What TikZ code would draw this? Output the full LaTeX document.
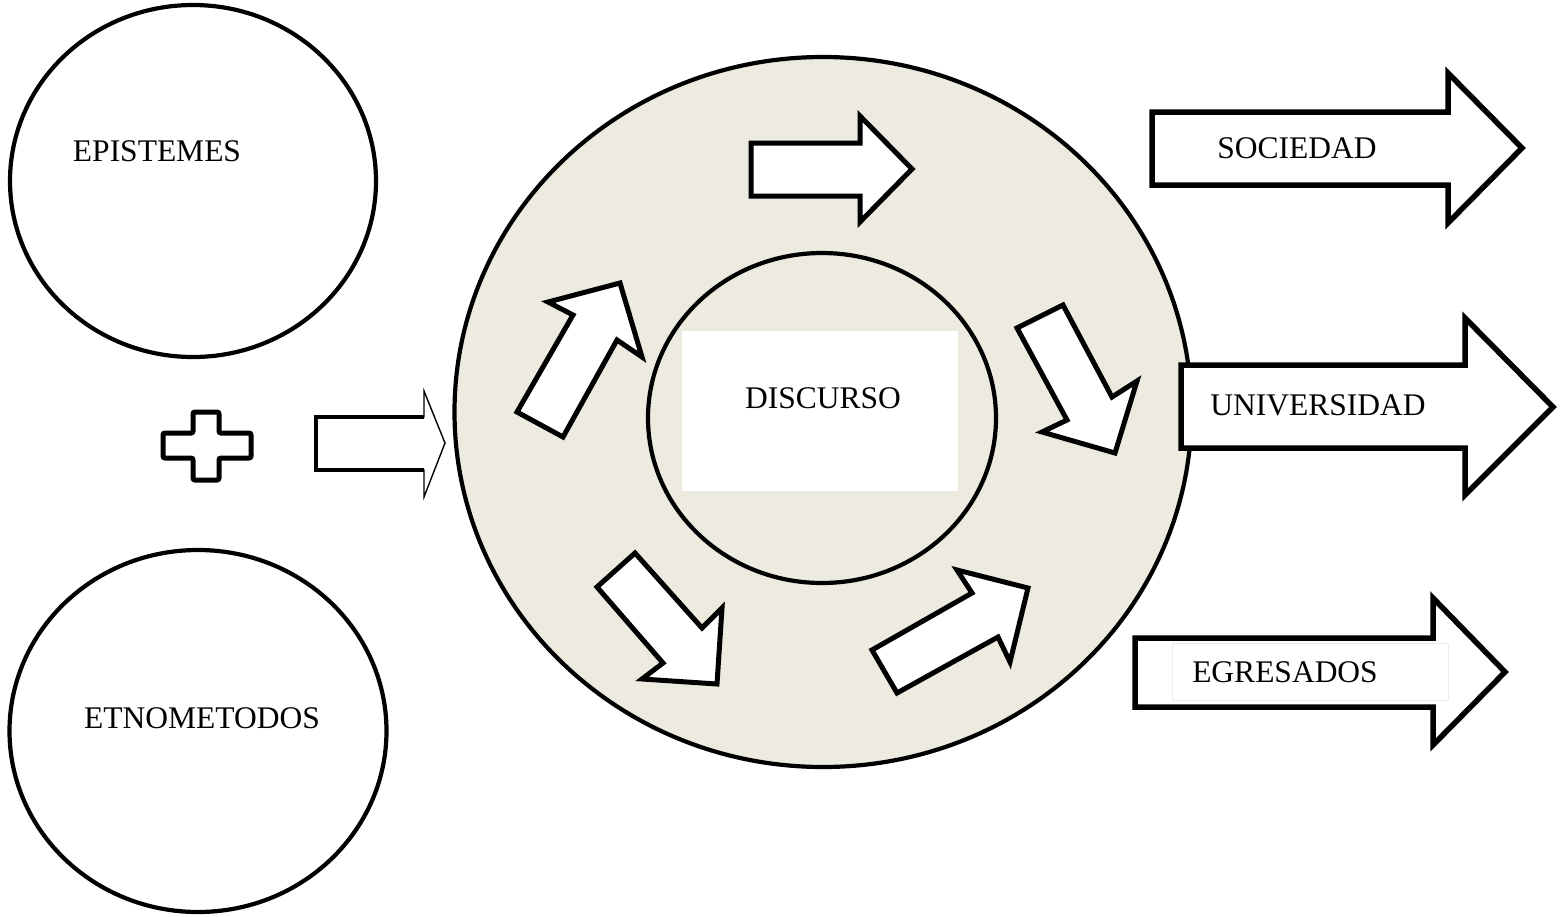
\documentclass[tikz,border=0pt]{standalone}
\usepackage{fontspec}
\setmainfont{Liberation Serif}
\usetikzlibrary{shapes.geometric}
\definecolor{beige}{RGB}{237,235,224}
\begin{document}
\begin{tikzpicture}[x=1pt,y=-1pt,
  circ/.style={draw=black,line width=4.2pt,ellipse,inner sep=0pt},
  lbl/.style={font=\fontsize{31.5}{36}\selectfont,inner sep=0pt},
  blockarrow/.style={draw=black,fill=white,line width=5pt,line join=miter},
  bigarrow/.style={draw=black,fill=white,line width=5.5pt,line join=miter}]
\useasboundingbox[fill=white] (0,0) rectangle (1564,916);

% left circles
\node[circ,minimum width=366pt,minimum height=352pt] (epi) at (193,181) {};
\node[lbl] (epit) at (157,151) {EPISTEMES};
\node[circ,minimum width=377pt,minimum height=362pt] (etno) at (198,731) {};
\node[lbl] (etnot) at (202,718) {ETNOMETODOS};

% plus sign
\draw[line width=5pt,rounded corners=2pt,fill=white]
  (193,412) -- (219,412) -- (219,433) -- (251,433) -- (251,458) -- (219,458)
  -- (219,480) -- (193,480) -- (193,458) -- (163,458) -- (163,433) -- (193,433) -- cycle;

% left arrow
\draw[line width=1.4pt,fill=white,line join=miter]
  (316,417) -- (424,417) -- (424,391) -- (445,443) -- (424,497) -- (424,470) -- (316,470) -- cycle;
\draw[line width=3.5pt] (424,417) -- (316,417) -- (316,470) -- (424,470);

% big circle
\node[circ,fill=beige,minimum width=737pt,minimum height=710pt] (outer) at (823,412) {};
\node[circ,fill=beige,minimum width=348pt,minimum height=330pt] (inner) at (822,418) {};
\fill[white] (682,331) rectangle (958,491);
\node[lbl] (disc) at (823,398) {DISCURSO};

% small arrows inside
\draw[blockarrow] (751,143) -- (860,143) -- (860,116) -- (912,169) -- (860,222) -- (860,196) -- (751,196) -- cycle;
\draw[blockarrow] (517,412) -- (563,437) -- (617,340) -- (642,357) -- (620,283) -- (548,302) -- (573,315) -- cycle;
\draw[blockarrow] (1017,328) -- (1063,305) -- (1112,397) -- (1137,381) -- (1115,453) -- (1042,432) -- (1067,420) -- cycle;
\draw[blockarrow] (597,587) -- (635,553) -- (702,628) -- (722,608) -- (717,684) -- (642,679) -- (663,663) -- cycle;
\draw[blockarrow] (872,650) -- (897,693) -- (998,637) -- (1010,662) -- (1028,588) -- (957,570) -- (972,593) -- cycle;

% right arrows
\draw[bigarrow] (1152,112) -- (1448,112) -- (1448,73) -- (1522,148) -- (1448,223) -- (1448,185) -- (1152,185) -- cycle;
\node[lbl] (soc) at (1297,148) {SOCIEDAD};
\draw[bigarrow] (1181,365) -- (1465,365) -- (1465,318) -- (1553,407) -- (1465,495) -- (1465,448) -- (1181,448) -- cycle;
\node[lbl] (uni) at (1318,405) {UNIVERSIDAD};
\draw[bigarrow] (1135,638) -- (1433,638) -- (1433,598) -- (1505,672) -- (1433,745) -- (1433,707) -- (1135,707) -- cycle;
\draw[black!8,line width=0.8pt] (1172,643) rectangle (1448,700);
\node[lbl] (egr) at (1285,672) {EGRESADOS};
\end{tikzpicture}
\end{document}
